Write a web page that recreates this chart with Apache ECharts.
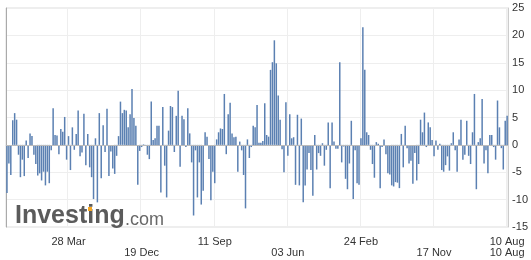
<!DOCTYPE html>
<html><head><meta charset="utf-8">
<script src="https://cdn.jsdelivr.net/npm/echarts@6/dist/echarts.min.js"></script>
<style>html,body{margin:0;padding:0;background:#fff}#c{width:531px;height:260px}</style>
</head><body><div id="c"></div>
<script>
// Weekly changes, first week 16 Aug 2017, last week 10 Aug 2022
const firstWeek = [2017, 7, 16];
const weekCount = 261;
const values = [
-8.8,-3.4,-5.5,4.5,5.8,4.6,-1.8,-5.9,-2.7,-5.7,
0.8,-2.4,2.1,1.6,-1.8,-3.5,-5.6,-5.2,-6.5,-4.9,
-7.4,-4.9,-7.0,-1.0,6.7,1.8,1.7,-1.7,2.9,2.4,
5.1,-2.7,1.6,-4.6,3.2,-0.9,2.0,6.3,-2.1,-1.4,
5.7,-3.7,2.0,-4.1,-5.9,-9.9,1.2,-10.5,5.8,-6.1,
3.6,-1.3,6.6,-5.7,-1.2,-4.3,-5.3,-2.0,1.6,7.9,
5.8,6.4,6.3,3.2,5.6,10.2,4.9,3.5,-7.3,-1.1,
-0.4,0.1,-0.1,-1.8,-2.6,7.9,0.9,1.2,3.5,3.5,
-8.7,6.9,-3.8,-9.6,2.6,7.1,6.9,-1.3,5.3,9.9,
-4.0,5.3,4.7,-0.4,6.7,2.1,-3.2,-12.9,-1.0,-9.6,
-3.2,-10.9,-8.4,2.3,1.5,-2.6,-10.1,-4.9,-7.0,1.0,
2.3,3.0,2.9,9.3,-1.7,5.6,7.7,2.1,1.4,1.5,
-4.9,0.6,-1.0,-5.5,-11.6,1.0,-2.4,-0.4,3.5,3.2,
7.3,0.4,0.4,0.7,7.6,1.8,1.5,13.7,15.1,19.1,
14.9,9.0,4.6,-0.8,-5.0,7.8,-2.0,5.6,1.2,1.4,
-7.3,5.5,-7.4,4.8,-10.5,-7.4,-4.5,-1.5,-4.6,-9.3,
1.8,-4.5,-1.5,-2.0,0.3,-3.8,-0.9,4.1,-7.9,4.1,
0.6,-0.7,-0.7,15.1,-3.2,-0.3,-6.2,-8.1,-3.4,4.4,
-9.9,-1.0,-7.0,-7.3,1.2,21.5,13.7,2.3,1.8,-0.9,
-3.5,-6.0,0.5,0.2,-7.9,-0.4,1.0,-1.7,-5.2,-5.4,
-7.4,-7.6,-6.8,-6.9,-7.9,2.0,-4.1,3.5,-0.6,-3.4,
-2.9,-7.1,-1.5,-6.5,-3.5,4.6,2.3,5.9,-0.4,4.1,
3.2,0.9,-2.1,0.8,-0.9,0.2,-4.6,-4.9,-3.7,-2.1,
-4.7,0.3,2.3,-1.0,-4.9,1.0,4.6,-2.7,-1.8,4.4,
-2.0,-3.5,2.3,9.3,-8.1,0.5,1.2,8.4,-3.4,-1.0,
-5.2,1.8,1.8,-0.4,-2.7,8.1,3.2,-0.6,-4.5,4.4,
5.3
];
const tickLabels = ['28 Mar','19 Dec','11 Sep','03 Jun','24 Feb','17 Nov','10 Aug'];
const tickIndices = [32, 70, 108, 146, 184, 222, 260];
const yMin = -15, yMax = 25, yStep = 5;

const months = ['Jan','Feb','Mar','Apr','May','Jun','Jul','Aug','Sep','Oct','Nov','Dec'];
const categories = [];
const t0 = Date.UTC(firstWeek[0], firstWeek[1], firstWeek[2]);
for (let i = 0; i < weekCount; i++) {
  const d = new Date(t0 + i * 7 * 86400000);
  categories.push(String(d.getUTCDate()).padStart(2, '0') + ' ' + months[d.getUTCMonth()] + ' ' + d.getUTCFullYear());
}
const isTick = (idx) => tickIndices.indexOf(idx) >= 0;

const chart = echarts.init(document.getElementById('c'), null, {renderer: 'canvas'});
chart.setOption({
  animation: false,
  backgroundColor: '#fff',
  grid: {left: 6, right: 22, top: 8, bottom: 33, show: true, borderColor: '#dddddd', borderWidth: 1},
  xAxis: {
    type: 'category',
    data: categories,
    boundaryGap: true,
    axisLine: {show: true, lineStyle: {color: '#ccd6eb', width: 1}},
    axisTick: {show: false},
    splitLine: {show: true, interval: (i) => isTick(i), lineStyle: {color: '#eeeeee', width: 1}},
    axisLabel: {
      interval: (i) => isTick(i),
      margin: 9,
      fontSize: 11,
      lineHeight: 11,
      color: '#333',
      fontFamily: 'Liberation Sans, Arial, sans-serif',
      formatter: (v, i) => {
        const k = tickIndices.indexOf(i);
        if (k < 0) return '';
        const s = tickLabels[k];
        if (k === tickLabels.length - 1) return s + '\n' + s;
        return k % 2 ? '\n' + s : s;
      }
    }
  },
  yAxis: [{
    type: 'value', position: 'right', min: yMin, max: yMax, interval: yStep,
    axisLine: {show: true, lineStyle: {color: '#cccccc'}},
    axisTick: {show: false},
    splitLine: {show: true, lineStyle: {color: '#eeeeee'}},
    axisLabel: {margin: 4, fontSize: 11, color: '#333', fontFamily: 'Liberation Sans, Arial, sans-serif'}
  }, {
    type: 'value', position: 'left', min: yMin, max: yMax, interval: yStep,
    axisLine: {show: true, lineStyle: {color: '#aaaaaa'}},
    axisTick: {show: false}, axisLabel: {show: false}, splitLine: {show: false}
  }],
  series: [{
    type: 'bar',
    data: values,
    barWidth: '78%',
    itemStyle: {color: '#5b80b2'},
    markLine: {
      silent: true, symbol: 'none', label: {show: false},
      lineStyle: {color: '#bbbbbb', type: 'solid', width: 1},
      data: [{yAxis: 0}]
    }
  }],
  graphic: [
    {type: 'text', left: 15, top: 204, z: 100, style: {text: 'Investing', font: 'bold 25px "Liberation Sans"', fill: '#4d4d4d', opacity: 0.92}},
    {type: 'rect', left: 88, top: 207, z: 101, shape: {width: 4, height: 4}, style: {fill: '#f5a623'}},
    {type: 'text', left: 125, top: 211, z: 100, style: {text: '.com', font: '18px "Liberation Sans"', fill: '#5a5a5a', opacity: 0.92}}
  ]
});
</script></body></html>
